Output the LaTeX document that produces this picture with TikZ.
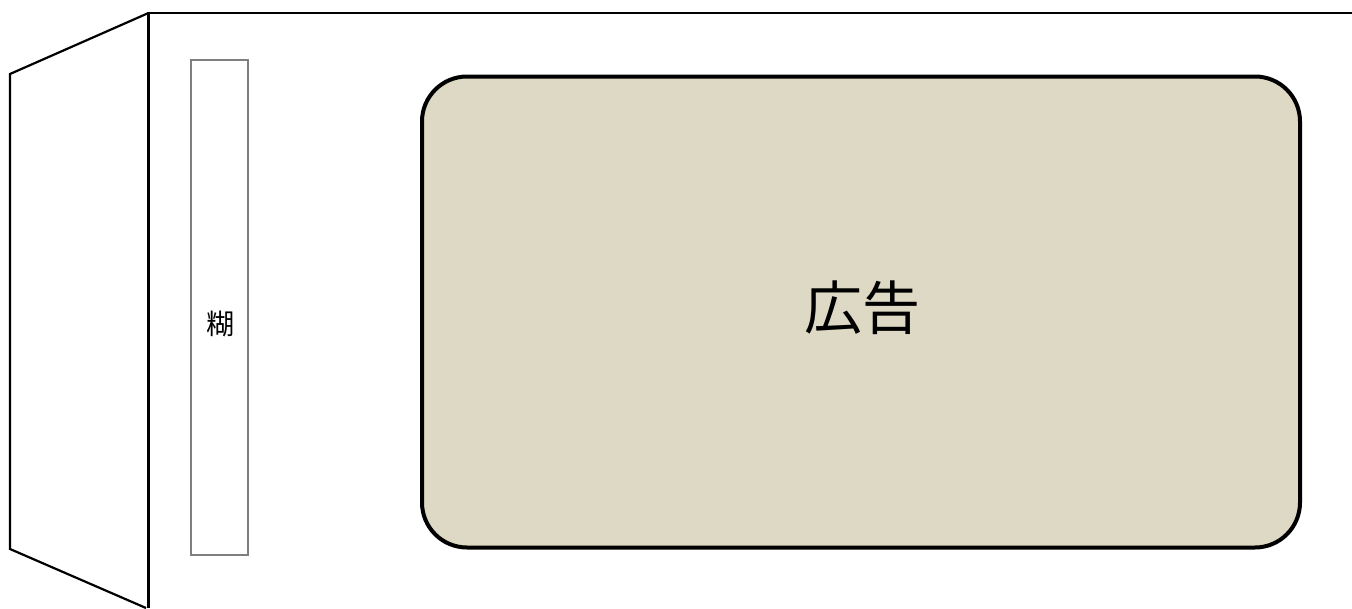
\documentclass[tikz,border=0pt]{standalone}
\usepackage{fontspec}
\newfontfamily\cjk{Noto Sans CJK JP}
\definecolor{adfill}{HTML}{DDD9C4}
\definecolor{gluegray}{HTML}{7F7F7F}
\tikzset{
  edgeline/.style={draw=black, line width=2.2pt},
  gluebox/.style={draw=gluegray, line width=1.2pt, fill=white, minimum width=57pt, minimum height=495pt, inner sep=0pt},
  gluetext/.style={inner sep=0pt, font=\cjk\fontsize{28}{30}\selectfont},
  adbox/.style={draw=black, line width=4pt, fill=adfill, rounded corners=45pt, minimum width=878pt, minimum height=471pt, inner sep=0pt},
  adtext/.style={inner sep=0pt, font=\cjk\fontsize{58}{62}\selectfont}
}
\begin{document}
\begin{tikzpicture}[x=1pt,y=-1pt]
\useasboundingbox (0,0) rectangle (1352,608);
\coordinate (flapTL) at (10,74);
\coordinate (flapBL) at (10,549);
\coordinate (hingeT) at (148.5,13);
\coordinate (hingeB) at (148.5,608);
\coordinate (flapBR) at (146,608);
\coordinate (topR) at (1352,13);
\draw[edgeline, line join=miter] (flapBR) -- (flapBL) -- (flapTL) -- (hingeT);
\draw[edgeline] (hingeB) -- (hingeT) -- (topR);
\node[gluebox] (glue) at (219.5,307.5) {};
\node[gluetext] (gluelabel) at (220,324) {糊};
\node[adbox] (ad) at (861,312) {};
\node[adtext] (adlabel) at (862,308) {広告};
\end{tikzpicture}
\end{document}
